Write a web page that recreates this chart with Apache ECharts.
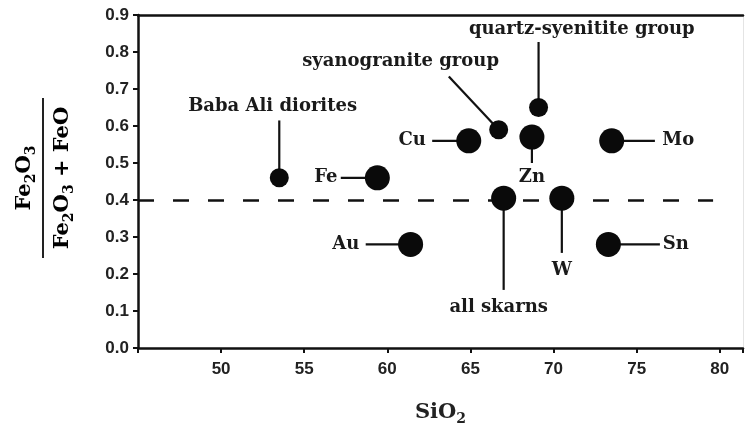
<!DOCTYPE html>
<html>
<head>
<meta charset="utf-8">
<script src="https://cdn.jsdelivr.net/npm/echarts@6/dist/echarts.min.js"></script>
<style>
html,body{margin:0;padding:0;background:#fff;}
#chart{width:749px;height:426px;}
</style>
</head>
<body>
<div id="chart"></div>
<script>
// ---- data ----
const names    = ['Baba Ali diorites','Fe','Cu','syanogranite group','quartz-syenitite group','Zn','Mo','all skarns','W','Sn','Au'];
const sio2     = [53.5, 59.4, 64.9, 66.7, 69.1, 68.7, 73.5, 67.0, 70.5, 73.3, 61.4];
const ratio    = [0.46, 0.46, 0.56, 0.59, 0.65, 0.57, 0.56, 0.405, 0.405, 0.28, 0.28];
// small-dot rock groups (others are skarn/ore types)
const rockGroups = ['Baba Ali diorites','syanogranite group','quartz-syenitite group'];
// leader line end points (data units)
const leaderEndX = [53.5, 57.2, 62.7, 63.7, 69.1, 68.7, 76.1, 67.0, 70.5, 76.4, 58.7];
const leaderEndY = [0.615, 0.46, 0.56, 0.734, 0.827, 0.50, 0.56, 0.157, 0.257, 0.28, 0.28];
// label centres (data units)
const labelX = [53.1, 56.3, 61.5, 60.8, 71.7, 68.7, 77.5, 66.7, 70.5, 77.35, 57.5];
const labelY = [0.653, 0.46, 0.56, 0.775, 0.862, 0.461, 0.56, 0.111, 0.211, 0.28, 0.28];
const xTicks = [50, 55, 60, 65, 70, 75, 80];
const threshold = 0.4;
const thresholdEnd = 79.6;

const annFont = '"DejaVu Serif",serif';
const titleFont = '"DejaVu Serif",serif';
const chart = echarts.init(document.getElementById('chart'));

const annotData = names.map((n, i) => [sio2[i], ratio[i], leaderEndX[i], leaderEndY[i], labelX[i], labelY[i]]);

const chemRich = {
  b: {fontSize: 21, fontWeight: 'bold', fontFamily: titleFont, color: '#222', lineHeight: 26, verticalAlign: 'middle'},
  s: {fontSize: 14, fontWeight: 'bold', fontFamily: titleFont, color: '#222', lineHeight: 14, verticalAlign: 'bottom'}
};

chart.setOption({
  backgroundColor: '#fff',
  animation: false,
  grid: {left: 138, right: 6, top: 15, bottom: 78, containLabel: false, outerBoundsMode: 'none'},
  xAxis: [{
    type: 'value', min: 45, max: 81.4, interval: 5,
    splitLine: {show: false},
    axisLine: {lineStyle: {color: '#111', width: 2.5}},
    axisTick: {show: true, length: 5, inside: false, lineStyle: {color: '#111', width: 2}},
    axisLabel: {
      color: '#222', fontWeight: 'bold', fontSize: 17, fontFamily: '"Liberation Sans",Arial,sans-serif', margin: 13,
      formatter: v => xTicks.indexOf(v) >= 0 ? String(v) : ''
    },
    name: '{b|SiO}{s|2}', nameLocation: 'middle', nameGap: 52,
    nameTextStyle: {rich: chemRich}
  }, {
    type: 'value', position: 'top', min: 45, max: 81.4,
    axisLine: {show: true, onZero: false, lineStyle: {color: '#111', width: 2.5}},
    axisTick: {show: false}, axisLabel: {show: false}, splitLine: {show: false}
  }],
  yAxis: [{
    type: 'value', min: 0, max: 0.9, interval: 0.1,
    splitLine: {show: false},
    axisLine: {show: true, lineStyle: {color: '#111', width: 2.5}},
    axisTick: {show: true, length: 5, lineStyle: {color: '#111', width: 2}},
    axisLabel: {
      color: '#222', fontWeight: 'bold', fontSize: 17, fontFamily: '"Liberation Sans",Arial,sans-serif', margin: 9,
      formatter: v => v.toFixed(1)
    }
  }, {
    type: 'value', position: 'right', min: 0, max: 0.9,
    axisLine: {show: true, onZero: false, lineStyle: {color: '#e4e4e4', width: 1}},
    axisTick: {show: false}, axisLabel: {show: false}, splitLine: {show: false}
  }],
  series: [
    {
      type: 'custom',
      clip: false,
      z: 3,
      data: annotData,
      encode: {x: [0, 2, 4], y: [1, 3, 5]},
      renderItem: function (params, api) {
        const p0 = api.coord([api.value(0), api.value(1)]);
        const p1 = api.coord([api.value(2), api.value(3)]);
        const pl = api.coord([api.value(4), api.value(5)]);
        return {
          type: 'group',
          children: [
            {type: 'line', shape: {x1: p0[0], y1: p0[1], x2: p1[0], y2: p1[1]},
             style: {stroke: '#111', lineWidth: 2.2}},
            {type: 'text', x: pl[0], y: pl[1],
             style: {text: names[params.dataIndex], align: 'center', verticalAlign: 'middle',
                     font: 'bold 18px ' + annFont, fill: '#1a1a1a'}}
          ]
        };
      }
    },
    {
      type: 'scatter',
      z: 5,
      data: names.map((n, i) => [sio2[i], ratio[i]]),
      symbol: 'circle',
      symbolSize: (v, p) => rockGroups.indexOf(names[p.dataIndex]) >= 0 ? 19 : 25,
      itemStyle: {color: '#0a0a0a', opacity: 1},
      markLine: {
        silent: true, symbol: 'none', z: 2,
        label: {show: false},
        lineStyle: {color: '#111', width: 2.6, type: [16, 19]},
        data: [[{coord: [45, threshold]}, {coord: [thresholdEnd, threshold]}]]
      }
    }
  ],
  graphic: [{
    type: 'group',
    x: 43, y: 178,
    rotation: Math.PI / 2,
    children: [
      {type: 'text', x: 0, y: -18,
       style: {text: '{b|Fe}{s|2}{b|O}{s|3}', align: 'center', verticalAlign: 'middle', rich: chemRich}},
      {type: 'line', shape: {x1: -80, y1: 0, x2: 80, y2: 0}, style: {stroke: '#222', lineWidth: 2}},
      {type: 'text', x: 0, y: 20,
       style: {text: '{b|Fe}{s|2}{b|O}{s|3}{b| + FeO}', align: 'center', verticalAlign: 'middle', rich: chemRich}}
    ]
  }]
});
</script>
</body>
</html>
